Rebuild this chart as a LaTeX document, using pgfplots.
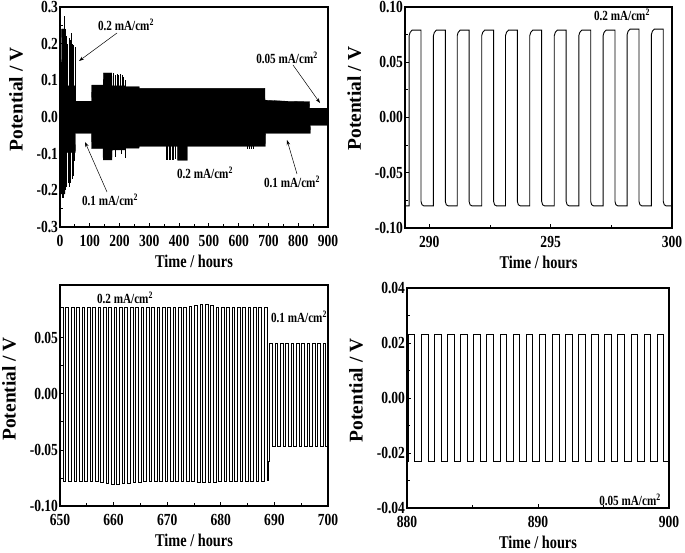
\documentclass[border=0pt]{standalone}
\usepackage{fontspec}
\setmainfont{Liberation Serif}[FakeStretch=0.8]
\newfontfamily\vfont{Liberation Serif}
\usepackage{pgfplots}
\pgfplotsset{compat=1.18}
\usetikzlibrary{arrows.meta}
\pgfplotsset{
  panel/.style={
    scale only axis,
    axis line style={line width=1.1pt},
    tick align=inside, tick pos=left,
    major tick length=4bp, minor tick length=2.5bp,
    every tick/.style={black, line width=0.8pt},
    tick label style={font=\bfseries\fontsize{17}{17}\selectfont},
    xticklabel style={yshift=-5bp},
    yticklabel style={xshift=1.5bp},
    scaled ticks=false,
    /pgf/number format/assume math mode=true,
    /pgf/number format/.cd, fixed, fixed zerofill, /pgfplots/.cd,
    xlabel={Time / hours}, ylabel={Potential / V},
    every axis x label/.style={at={(axis description cs:0.5,-0.155)}, anchor=center, font=\bfseries\fontsize{18}{18}\selectfont},
    every axis y label/.style={at={(axis description cs:-0.19,0.5)}, anchor=center, rotate=90, font=\vfont\bfseries\fontsize{19.5}{19.5}\selectfont},
    minor tick num=1,
  },
}
\tikzset{ann/.style={font=\bfseries\fontsize{14}{14}\selectfont, inner sep=0pt}}
\begin{document}
\begin{tikzpicture}[x=1bp,y=1bp]
\useasboundingbox (0,0) rectangle (685,553);
% ---------------- top-left ----------------
\begin{axis}[panel, at={(60bp,326bp)}, anchor=south west, width=268bp, height=220bp,
  xmin=0, xmax=900, ymin=-0.3, ymax=0.3, xtick={0,100,...,900}, ytick={-0.3,-0.2,...,0.3},
  yticklabel style={/pgf/number format/precision=1},
  xticklabel style={/pgf/number format/precision=0},
  every axis y label/.append style={at={(axis description cs:-0.164,0.58)}}]
\addplot[fill=black, draw=black, line width=0.3pt] coordinates {
(0,0) (0.5,0.14) (5,0.15) (5.5,0.24) (17,0.24) (17.5,0.085) (52,0.085) (52.5,0.043)
(106,0.043) (106.5,0.087) (145,0.087) (145.5,0.12) (174,0.12) (174.5,0.085) (220,0.085)
(220.5,0.083) (266,0.083) (266.5,0.078) (688,0.078) (688.5,0.046) (760,0.043) (838,0.042)
(838.5,0.024) (900,0.024)
(900,-0.023) (841,-0.023) (840.5,-0.045) (690.5,-0.045) (690,-0.08) (428,-0.08) (428,-0.118)
(395,-0.118) (395,-0.08) (266,-0.08) (265.5,-0.085) (220,-0.085) (219.5,-0.09) (175,-0.09)
(174.5,-0.117) (145,-0.117) (144.5,-0.086) (106,-0.086) (105.5,-0.045) (52,-0.045) (51.5,-0.097)
(17,-0.097) (16.5,-0.21) (3,-0.21) (2.5,-0.1) (0,-0.1)
} -- cycle;
\addplot[ycomb, black, line width=0.7pt] coordinates {
(3,0.14) (7,0.24) (10,0.24) (14,0.275) (17,0.24) (22,0.22) (25,0.2) (30,0.215) (34,0.21)
(38,0.23) (42,0.2) (46,0.195) (50,0.19)
(180,0.12) (185,0.115) (192,0.118) (197,0.115) (203,0.118) (208,0.115) (214,0.11) (219,0.1)
};
\addplot[ycomb, black, line width=0.7pt] coordinates {
(1,-0.3) (4,-0.2) (8,-0.22) (12,-0.22) (17,-0.2) (22,-0.19) (27,-0.18) (31,-0.19) (36,-0.18)
(40,-0.17) (44,-0.16) (48,-0.12)
(187,-0.11) (205,-0.1) (218,-0.113)
(357,-0.118) (362,-0.118) (367,-0.116) (372,-0.118) (377,-0.117) (382,-0.118) (388,-0.115)
(630,-0.088) (636,-0.088) (642,-0.088) (648,-0.087)
};
\end{axis}
% ---------------- top-right ----------------
\begin{axis}[panel, at={(405bp,325bp)}, anchor=south west, width=267bp, height=221bp,
  xmin=289, xmax=300, ymin=-0.1, ymax=0.1, xtick={290,295,300}, minor xtick={292.5,297.5},
  ytick={-0.1,-0.05,...,0.1},
  yticklabel style={/pgf/number format/precision=2},
  xticklabel style={/pgf/number format/precision=0},
  every axis y label/.append style={at={(axis description cs:-0.19,0.585)}}]
\addplot[black, line width=0.9pt] coordinates {
(289,-0.080)
(289.17,-0.080) (289.17,0.074) (289.21,0.077) (289.29,0.079) (289.66,0.079) (289.66,-0.076) (289.70,-0.079) (289.78,-0.080)
(290.17,-0.080) (290.17,0.074) (290.21,0.077) (290.29,0.079) (290.66,0.079) (290.66,-0.076) (290.70,-0.079) (290.78,-0.080)
(291.15,-0.080) (291.15,0.074) (291.19,0.077) (291.27,0.079) (291.64,0.079) (291.64,-0.076) (291.68,-0.079) (291.76,-0.080)
(292.16,-0.080) (292.16,0.074) (292.20,0.077) (292.28,0.079) (292.65,0.079) (292.65,-0.076) (292.69,-0.079) (292.77,-0.080)
(293.14,-0.080) (293.14,0.074) (293.18,0.077) (293.26,0.079) (293.63,0.079) (293.63,-0.076) (293.67,-0.079) (293.75,-0.080)
(294.14,-0.080) (294.14,0.074) (294.18,0.077) (294.26,0.079) (294.63,0.079) (294.63,-0.076) (294.67,-0.079) (294.75,-0.080)
(295.15,-0.080) (295.15,0.074) (295.19,0.077) (295.27,0.079) (295.64,0.079) (295.64,-0.076) (295.68,-0.079) (295.76,-0.080)
(296.16,-0.080) (296.16,0.074) (296.20,0.077) (296.28,0.079) (296.65,0.079) (296.65,-0.076) (296.69,-0.079) (296.77,-0.080)
(297.16,-0.080) (297.16,0.074) (297.20,0.077) (297.28,0.079) (297.65,0.079) (297.65,-0.076) (297.69,-0.079) (297.77,-0.080)
(298.15,-0.080) (298.15,0.075) (298.19,0.078) (298.27,0.080) (298.64,0.080) (298.64,-0.076) (298.68,-0.079) (298.76,-0.080)
(299.15,-0.080) (299.15,0.075) (299.19,0.078) (299.27,0.080) (299.64,0.080) (299.64,-0.076) (299.68,-0.079) (299.76,-0.080)
(300,-0.080)
};
\end{axis}
% ---------------- bottom-left ----------------
\begin{axis}[panel, at={(60bp,47bp)}, anchor=south west, width=268bp, height=221bp,
  xmin=650, xmax=700, ymin=-0.1, ymax=0.097, xtick={650,660,...,700},
  ytick={-0.1,-0.05,0,0.05},
  yticklabel style={/pgf/number format/precision=2},
  xticklabel style={/pgf/number format/precision=0},
  every axis y label/.append style={at={(axis description cs:-0.19,0.53)}}]
\addplot[const plot, black, line width=0.8pt] coordinates {
(650,-0.078)
(650.1,0.077) (650.6,-0.078) (651.1,0.077) (651.6,-0.078) (652.1,0.077) (652.6,-0.078)
(653.1,0.077) (653.6,-0.078) (654.1,0.077) (654.6,-0.078) (655.1,0.077) (655.6,-0.078)
(656.1,0.077) (656.6,-0.078) (657.1,0.077) (657.6,-0.079) (658.1,0.077) (658.6,-0.080)
(659.1,0.077) (659.6,-0.081) (660.1,0.077) (660.6,-0.081) (661.1,0.077) (661.6,-0.080)
(662.1,0.077) (662.6,-0.080) (663.1,0.077) (663.6,-0.079) (664.1,0.077) (664.6,-0.079)
(665.1,0.077) (665.6,-0.078) (666.1,0.077) (666.6,-0.078) (667.1,0.077) (667.6,-0.078)
(668.1,0.077) (668.6,-0.078) (669.1,0.077) (669.6,-0.078) (670.1,0.077) (670.6,-0.078)
(671.1,0.077) (671.6,-0.078) (672.1,0.077) (672.6,-0.078) (673.1,0.077) (673.6,-0.078)
(674.1,0.078) (674.6,-0.078) (675.1,0.079) (675.6,-0.079) (676.1,0.080) (676.6,-0.079)
(677.1,0.080) (677.6,-0.079) (678.1,0.079) (678.6,-0.079) (679.1,0.077) (679.6,-0.078)
(680.1,0.077) (680.6,-0.078) (681.1,0.077) (681.6,-0.078) (682.1,0.077) (682.6,-0.078)
(683.1,0.077) (683.6,-0.078) (684.1,0.077) (684.6,-0.078) (685.1,0.077) (685.6,-0.078)
(686.1,0.077) (686.6,-0.078) (687.1,0.077) (687.6,-0.078) (688.1,0.077) (688.6,-0.077)
(688.85,-0.060) (689.1,0.045) (689.6,-0.047) (690.1,0.045) (690.6,-0.047) (691.1,0.045)
(691.6,-0.047) (692.1,0.045) (692.6,-0.047) (693.1,0.045) (693.6,-0.047) (694.1,0.045)
(694.6,-0.047) (695.1,0.045) (695.6,-0.047) (696.1,0.045) (696.6,-0.047) (697.1,0.045)
(697.6,-0.047) (698.1,0.045) (698.6,-0.047) (699.1,0.045) (699.6,-0.047) (700,-0.047)
};
\end{axis}
% ---------------- bottom-right ----------------
\begin{axis}[panel, at={(407bp,45bp)}, anchor=south west, width=262bp, height=220bp,
  xmin=880, xmax=900, ymin=-0.04, ymax=0.04, xtick={880,890,900}, minor xtick={885,895},
  ytick={-0.04,-0.02,0,0.02,0.04}, minor ytick={-0.03,-0.01,0.01,0.03},
  yticklabel style={/pgf/number format/precision=2},
  xticklabel style={/pgf/number format/precision=0},
  every axis y label/.append style={at={(axis description cs:-0.195,0.535)}}]
\addplot[const plot, black, line width=0.9pt] coordinates {
(880,-0.023)
(880.1,0.023) (880.6,-0.023) (881.1,0.023) (881.6,-0.023) (882.1,0.023) (882.6,-0.023)
(883.1,0.023) (883.6,-0.023) (884.1,0.023) (884.6,-0.023) (885.1,0.023) (885.6,-0.023)
(886.1,0.023) (886.6,-0.023) (887.1,0.023) (887.6,-0.023) (888.1,0.023) (888.6,-0.023)
(889.1,0.023) (889.6,-0.023) (890.1,0.023) (890.6,-0.023) (891.1,0.023) (891.6,-0.023)
(892.1,0.023) (892.6,-0.023) (893.1,0.023) (893.6,-0.023) (894.1,0.023) (894.6,-0.023)
(895.1,0.023) (895.6,-0.023) (896.1,0.023) (896.6,-0.023) (897.1,0.023) (897.6,-0.023)
(898.1,0.023) (898.6,-0.023) (899.1,0.023) (899.6,-0.023) (900,-0.023)
};
\end{axis}
% ---------------- annotations ----------------
\node[ann] at (126,528) {0.2 mA/cm\textsuperscript{2}};
\draw[-{Stealth[length=5bp,width=3.5bp]}, line width=0.5pt] (117,520) -- (79,492);
\node[ann] at (110,353) {0.1 mA/cm\textsuperscript{2}};
\draw[-{Stealth[length=5bp,width=3.5bp]}, line width=0.5pt] (107,361) -- (85,411);
\node[ann] at (205,380) {0.2 mA/cm\textsuperscript{2}};
\node[ann] at (292,371) {0.1 mA/cm\textsuperscript{2}};
\draw[-{Stealth[length=5bp,width=3.5bp]}, line width=0.5pt] (297,379) -- (287,413);
\node[ann] at (287,495) {0.05 mA/cm\textsuperscript{2}};
\draw[-{Stealth[length=5bp,width=3.5bp]}, line width=0.5pt] (293,488) -- (320,450);
\node[ann] at (622,538) {0.2 mA/cm\textsuperscript{2}};
\node[ann] at (125,255) {0.2 mA/cm\textsuperscript{2}};
\node[ann] at (299,236) {0.1 mA/cm\textsuperscript{2}};
\node[ann] at (630,53) {0.05 mA/cm\textsuperscript{2}};
\end{tikzpicture}
\end{document}
